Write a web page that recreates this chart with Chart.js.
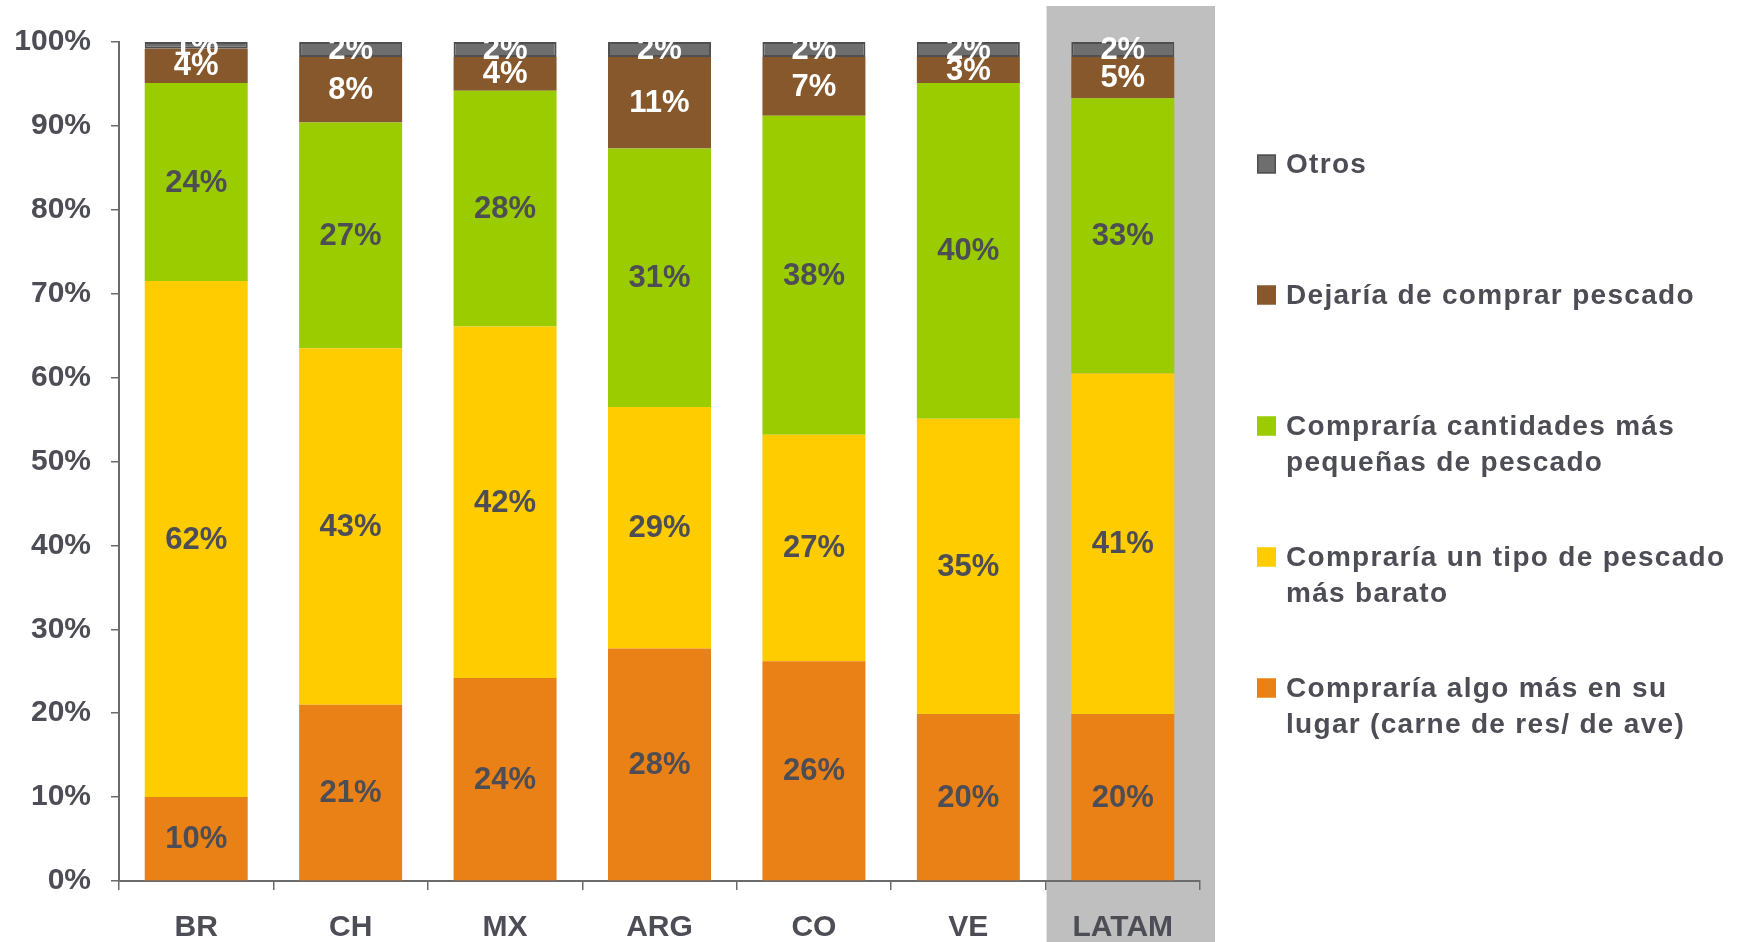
<!DOCTYPE html>
<html>
<head>
<meta charset="utf-8">
<script src="https://cdn.jsdelivr.net/npm/chart.js@4.4.1/dist/chart.umd.min.js"></script>
<style>
  body { margin: 0; background: #fff; }
  #grafico { display: block; }
</style>
</head>
<body>
<canvas id="grafico" width="1738" height="942"></canvas>
<script>
/* DATOS: porcentajes por país (de abajo hacia arriba en cada barra) */
const categorias = ['BR', 'CH', 'MX', 'ARG', 'CO', 'VE', 'LATAM'];
const algoMas     = [10.0, 21.0, 24.2, 27.7, 26.2, 19.9, 19.9];
const masBarato   = [61.5, 42.5, 41.9, 28.8, 27.0, 35.2, 40.6];
const masPequenas = [23.6, 26.9, 28.1, 30.8, 38.0, 40.0, 32.8];
const dejaria     = [4.1, 7.8, 4.0, 10.9, 7.0, 3.1, 4.9];
const otros       = [0.8, 1.8, 1.8, 1.8, 1.8, 1.8, 1.8];
const ticksY      = [0, 10, 20, 30, 40, 50, 60, 70, 80, 90, 100];

const nombres = [
  ['Compraría algo más en su', 'lugar (carne de res/ de ave)'],
  ['Compraría un tipo de pescado', 'más barato'],
  ['Compraría cantidades más', 'pequeñas de pescado'],
  ['Dejaría de comprar pescado'],
  ['Otros'],
];

/* ESTILOS */
const FUENTE = "'Liberation Sans', Arial, sans-serif";
const TEXTO = '#4d4d55';
const EJE = '#6b6b6b';
const colores  = ['#ea8116', '#ffcc00', '#9acc00', '#87582c', '#6e6e6e'];
const bordes   = ['#ea8116', '#ffcc00', '#9acc00', '#87582c', '#4f4f4f'];
const colorEtiqueta = [TEXTO, TEXTO, TEXTO, '#ffffff', '#ffffff'];
const series = [algoMas, masBarato, masPequenas, dejaria, otros];

/* Fondo gris detrás de LATAM */
const fondoLatam = {
  id: 'fondoLatam',
  beforeDraw(chart) {
    const x = chart.scales.x;
    const i = categorias.indexOf('LATAM');
    const medio = (x.getPixelForValue(1) - x.getPixelForValue(0)) / 2;
    const cx = x.getPixelForValue(i);
    const ctx = chart.ctx;
    ctx.save();
    ctx.fillStyle = '#bfbfbf';
    ctx.fillRect(cx - medio + 1, 6, medio * 2 + 14, chart.height - 6);
    ctx.restore();
  }
};

/* Etiquetas de porcentaje centradas en cada segmento */
const etiquetas = {
  id: 'etiquetas',
  afterDatasetsDraw(chart) {
    const ctx = chart.ctx;
    ctx.save();
    ctx.font = `bold 31px ${FUENTE}`;
    ctx.textAlign = 'center';
    ctx.textBaseline = 'middle';
    chart.data.datasets.forEach((ds, d) => {
      chart.getDatasetMeta(d).data.forEach((bar, i) => {
        const p = bar.getProps(['x', 'y', 'base'], true);
        ctx.fillStyle = colorEtiqueta[d];
        ctx.fillText(Math.round(ds.data[i]) + '%', p.x, (p.y + p.base) / 2 + 1);
      });
    });
    ctx.restore();
  }
};

/* Leyenda a la derecha (orden inverso, con texto en dos líneas) */
const leyenda = {
  id: 'leyenda',
  afterDraw(chart) {
    const ctx = chart.ctx;
    const x0 = 1257, y0 = 164, paso = 131, alto = 36, lado = 19;
    ctx.save();
    ctx.font = `bold 28px ${FUENTE}`;
    ctx.letterSpacing = '1.3px';
    ctx.textBaseline = 'middle';
    ctx.textAlign = 'left';
    const ds = chart.data.datasets;
    for (let k = 0; k < ds.length; k++) {
      const d = ds.length - 1 - k;
      const y = y0 + k * paso;
      ctx.fillStyle = colores[d];
      ctx.fillRect(x0, y - lado / 2, lado, lado);
      ctx.strokeStyle = d === 4 ? '#4f4f4f' : colores[d];
      ctx.lineWidth = 1.5;
      ctx.strokeRect(x0 + 0.75, y - lado / 2 + 0.75, lado - 1.5, lado - 1.5);
      ctx.fillStyle = TEXTO;
      nombres[d].forEach((linea, j) => {
        ctx.fillText(linea, x0 + 29, y + j * alto + 1);
      });
    }
    ctx.restore();
  }
};

new Chart(document.getElementById('grafico'), {
  type: 'bar',
  data: {
    labels: categorias,
    datasets: series.map((valores, d) => ({
      label: nombres[d].join(' '),
      data: valores,
      backgroundColor: colores[d],
      borderColor: bordes[d],
      borderWidth: d === 4 ? 2 : 0,
      borderSkipped: false,
      categoryPercentage: 1,
      barPercentage: 0.667,
    })),
  },
  options: {
    responsive: false,
    animation: false,
    layout: { padding: { left: 0, right: 538, top: 42, bottom: 0 } },
    plugins: {
      legend: { display: false },
      tooltip: { enabled: false },
    },
    scales: {
      x: {
        stacked: true,
        afterFit: axis => { axis.height = 61; },
        grid: { drawOnChartArea: false, drawTicks: true, tickLength: 9, color: EJE, lineWidth: 1.5, offset: true },
        border: { color: EJE, width: 2 },
        ticks: { color: TEXTO, font: { family: FUENTE, size: 30, weight: 'bold' }, padding: 20 },
      },
      y: {
        stacked: true,
        min: 0,
        max: 100,
        afterFit: axis => { axis.width = 119; },
        afterBuildTicks: axis => { axis.ticks = ticksY.map(v => ({ value: v })); },
        grid: { drawOnChartArea: false, drawTicks: true, tickLength: 8, color: EJE, lineWidth: 1.5 },
        border: { color: EJE, width: 2 },
        ticks: {
          color: TEXTO,
          font: { family: FUENTE, size: 30, weight: 'bold' },
          padding: 20,
          callback: v => v + '%',
        },
      },
    },
  },
  plugins: [fondoLatam, etiquetas, leyenda],
});
</script>
</body>
</html>
